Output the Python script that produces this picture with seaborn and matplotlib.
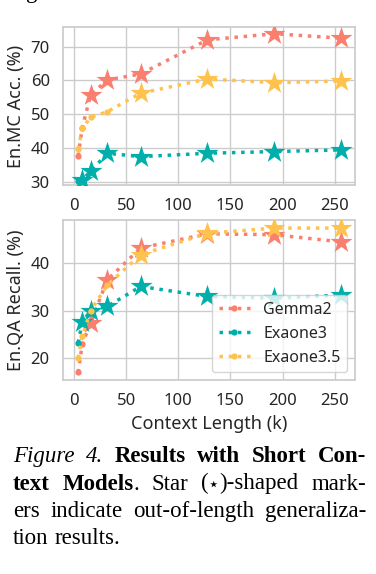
import pandas as pd
import matplotlib
matplotlib.use("Agg")
import matplotlib.pyplot as plt
import seaborn as sns
from matplotlib.transforms import IdentityTransform

# context lengths (k)
ctx = [4, 8, 16, 32, 64, 128, 192, 256]

models = ["Gemma2", "Exaone3", "Exaone3.5"]
colors = ["#FA7F6F", "#00AFAA", "#FFC34D"]
# how many points are inside the trained context length (rest are stars)
in_len = [2, 1, 4]

# En.MC accuracy (%)
gemma_mc = [37.6, 46.0, 55.7, 60.1, 61.9, 72.0, 73.8, 72.5]
exaone3_mc = [30.2, 30.6, 33.0, 38.4, 37.4, 38.4, 38.9, 39.4]
exaone35_mc = [39.6, 45.8, 49.1, 50.7, 56.2, 60.4, 59.3, 59.8]

# En.QA recall (%)
gemma_qa = [17.0, 23.0, 27.4, 36.5, 43.2, 46.2, 46.0, 44.5]
exaone3_qa = [23.2, 27.6, 30.0, 30.9, 35.1, 33.0, 32.6, 33.3]
exaone35_qa = [20.0, 24.6, 30.0, 35.4, 41.8, 46.3, 47.4, 47.4]

mc_scores = [gemma_mc, exaone3_mc, exaone35_mc]
qa_scores = [gemma_qa, exaone3_qa, exaone35_qa]

sns.set_theme(style="whitegrid", context="notebook",
              rc={"xtick.labelsize": 12, "ytick.labelsize": 12, "axes.labelsize": 13})
plt.rcParams["font.family"] = ["Noto Sans", "DejaVu Sans"]

W, H = 376, 574
fig = plt.figure(figsize=(W / 100, H / 100), dpi=100)
ax_top = fig.add_axes([63 / W, 1 - 185 / H, 292 / W, 158 / H])
ax_bot = fig.add_axes([63 / W, 1 - 380 / H, 292 / W, 160 / H])


def draw_panel(ax, scores, ylabel):
    for i, (name, c, n, y) in enumerate(zip(models, colors, in_len, scores)):
        df = pd.DataFrame({"ctx": ctx, "score": y})
        sns.lineplot(data=df, x="ctx", y="score", color=c, linestyle=":", lw=2.5,
                     marker="o", markersize=4.5, markeredgewidth=0, label=name,
                     ax=ax, zorder=2 + 2 * i)
        out = df.iloc[n:]
        sns.scatterplot(data=out, x="ctx", y="score", color=c, marker="*", s=280,
                        linewidth=0, ax=ax, zorder=3 + 2 * i, legend=False)
    ax.set_xlim(-10.5, 269.5)
    ax.set_xticks([0, 50, 100, 150, 200, 250])
    ax.set_ylabel(ylabel)
    ax.set_xlabel("")


draw_panel(ax_top, mc_scores, "En.MC Acc. (%)")
ax_top.set_ylim(29.0, 75.8)
ax_top.set_yticks([30, 40, 50, 60, 70])
if ax_top.get_legend() is not None:
    ax_top.get_legend().remove()

draw_panel(ax_bot, qa_scores, "En.QA Recall. (%)")
ax_bot.set_ylim(15.4, 49.1)
ax_bot.set_yticks([20, 30, 40])
ax_bot.set_xlabel("Context Length (k)")
leg = ax_bot.legend(loc="lower right", fontsize=11.5)
leg.set_zorder(10)

# caption below the chart (justified like the paper)
serif = ["Liberation Serif", "DejaVu Serif"]
cap_size = 16.5
styles = {"i": {"style": "italic", "family": serif},
          "b": {"weight": "bold", "family": serif},
          "r": {"family": serif},
          "s": {"family": ["DejaVu Sans"]}}
cap_lines = [
    [[("Figure", "i")], [("4.", "i")], [("Results", "b")], [("with", "b")],
     [("Short", "b")], [("Con-", "b")]],
    [[("text", "b")], [("Models", "b"), (".", "r")], [("Star", "r")],
     [("(", "r"), ("\u22c6", "s"), (")-shaped", "r")], [("mark-", "r")]],
    [[(w, "r")] for w in "ers indicate out-of-length generaliza-".split()],
    [[(w, "r")] for w in "tion results.".split()],
]
X0, X1 = 13, 366
baselines = [462, 489.5, 517, 544.5]
renderer = fig.canvas.get_renderer()
for k, (words, yb) in enumerate(zip(cap_lines, baselines)):
    y = H - yb
    arts, widths = [], []
    for word in words:
        pieces = []
        for s, st in word:
            size = cap_size * 0.8 if st == "s" else cap_size
            t = fig.text(0, y, s, transform=IdentityTransform(), fontsize=size,
                         va="baseline", color="black", **styles[st])
            pieces.append((t, t.get_window_extent(renderer).width))
        arts.append(pieces)
        widths.append(sum(w for _, w in pieces))
    last = k == len(cap_lines) - 1
    gap = 5.7 if last else (X1 - X0 - sum(widths)) / (len(words) - 1)
    x = X0
    for pieces, ww in zip(arts, widths):
        xx = x
        for t, w in pieces:
            t.set_x(xx)
            xx += w
        x += ww + gap

# bit of the previous line cut off at the top
fig.text(26, H + 2, "g", transform=IdentityTransform(), fontsize=cap_size,
         family=serif, va="baseline", color="black")

fig.savefig("out.png", dpi=100)
